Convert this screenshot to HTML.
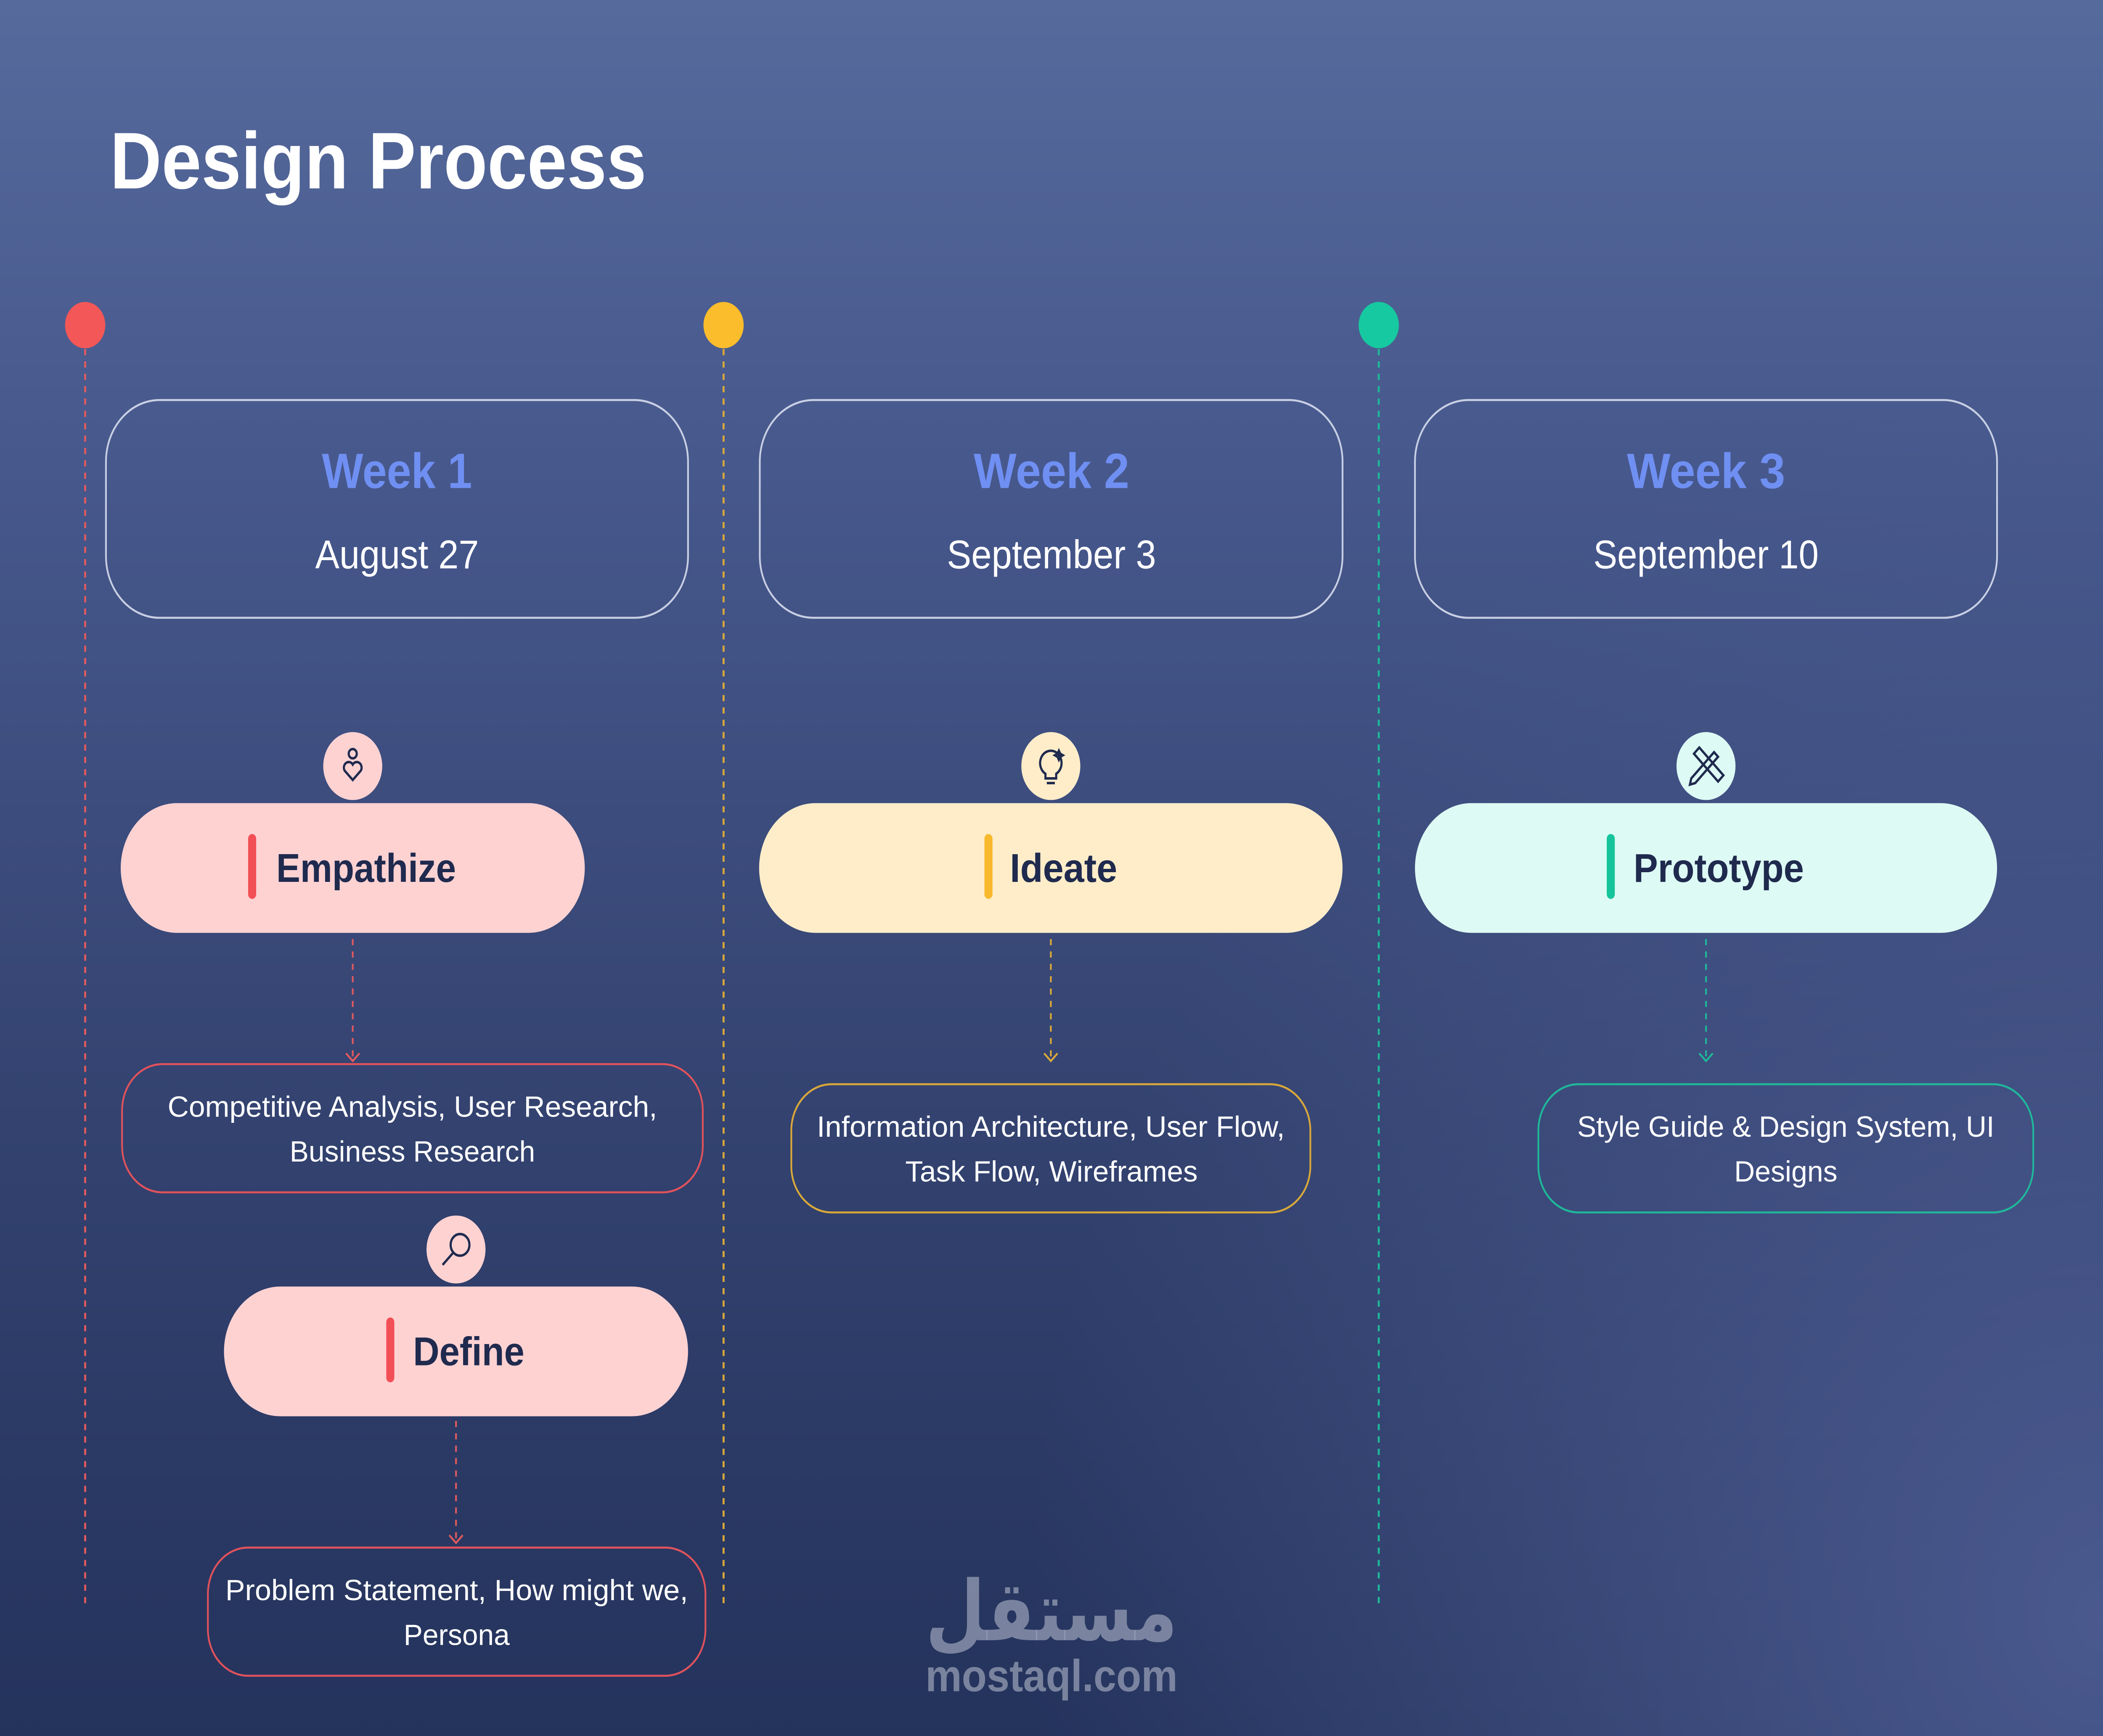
<!DOCTYPE html>
<html><head><meta charset="utf-8"><style>
html,body{margin:0;padding:0;background:#33426f;width:100%;height:100%;overflow:hidden;}
svg{display:block;position:fixed;left:0;top:0;width:100vw;height:100vh;}
text{font-family:"Liberation Sans","DejaVu Sans",sans-serif;}
</style></head><body>
<svg viewBox="0 0 1568 1124" preserveAspectRatio="none" xmlns="http://www.w3.org/2000/svg">
<defs>
<linearGradient id="bg" x1="0" y1="0" x2="0" y2="1">
<stop offset="0" stop-color="#566a9c"/><stop offset="0.3" stop-color="#45568a"/><stop offset="0.65" stop-color="#33426f"/><stop offset="1" stop-color="#24335c"/>
</linearGradient>
<radialGradient id="rg" cx="1568" cy="1050" r="800" gradientUnits="userSpaceOnUse">
<stop offset="0" stop-color="#505f96" stop-opacity="0.85"/><stop offset="1" stop-color="#505f96" stop-opacity="0"/>
</radialGradient>
</defs>
<rect width="1568" height="1124" fill="url(#bg)"/>
<rect width="1568" height="1124" fill="url(#rg)"/>

<text x="82" y="122" font-size="52" font-weight="bold" fill="#fff" textLength="400" lengthAdjust="spacingAndGlyphs">Design Process</text>

<g stroke-width="1.5" stroke-dasharray="4 4" fill="none">
<line x1="63.5" y1="226" x2="63.5" y2="1042" stroke="#e05a5f"/>
<line x1="539.5" y1="226" x2="539.5" y2="1042" stroke="#d9a83a"/>
<line x1="1028" y1="226" x2="1028" y2="1042" stroke="#1fb89a"/>
</g>
<circle cx="63.5" cy="210.5" r="15" fill="#f45757"/>
<circle cx="539.5" cy="210.5" r="15" fill="#fbbd2c"/>
<circle cx="1028" cy="210.5" r="15" fill="#16c9a0"/>

<g fill="none" stroke="#dfe4f3" stroke-opacity="0.85" stroke-width="1.3">
<rect x="79" y="259" width="434" height="141" rx="40"/>
<rect x="566.5" y="259" width="434.5" height="141" rx="40"/>
<rect x="1055" y="259" width="434" height="141" rx="40"/>
</g>
<g text-anchor="middle" lengthAdjust="spacingAndGlyphs">
<text x="296" y="316" font-size="32" font-weight="bold" fill="#6f8ff2" textLength="112" lengthAdjust="spacingAndGlyphs">Week 1</text>
<text x="296" y="368" font-size="26" fill="#fff" textLength="122" lengthAdjust="spacingAndGlyphs">August 27</text>
<text x="784" y="316" font-size="32" font-weight="bold" fill="#6f8ff2" textLength="116" lengthAdjust="spacingAndGlyphs">Week 2</text>
<text x="784" y="368" font-size="26" fill="#fff" textLength="156" lengthAdjust="spacingAndGlyphs">September 3</text>
<text x="1272" y="316" font-size="32" font-weight="bold" fill="#6f8ff2" textLength="118" lengthAdjust="spacingAndGlyphs">Week 3</text>
<text x="1272" y="368" font-size="26" fill="#fff" textLength="168" lengthAdjust="spacingAndGlyphs">September 10</text>
</g>

<rect x="90" y="520" width="346" height="84" rx="42" fill="#ffd2d2"/>
<rect x="185" y="540" width="6" height="42" rx="3" fill="#f24f56"/>
<text x="206" y="571" font-size="26" font-weight="bold" fill="#1f2a4e" textLength="134" lengthAdjust="spacingAndGlyphs">Empathize</text>

<rect x="566" y="520" width="435" height="84" rx="42" fill="#ffedc9"/>
<rect x="734" y="540" width="6" height="42" rx="3" fill="#f9b92c"/>
<text x="753" y="571" font-size="26" font-weight="bold" fill="#1f2a4e" textLength="80" lengthAdjust="spacingAndGlyphs">Ideate</text>

<rect x="1055" y="520" width="434" height="84" rx="42" fill="#ddfbf4"/>
<rect x="1198" y="540" width="6" height="42" rx="3" fill="#15c49b"/>
<text x="1218" y="571" font-size="26" font-weight="bold" fill="#1f2a4e" textLength="127" lengthAdjust="spacingAndGlyphs">Prototype</text>

<rect x="167" y="833" width="346" height="84" rx="42" fill="#ffd2d2"/>
<rect x="288" y="853" width="6" height="42" rx="3" fill="#f24f56"/>
<text x="308" y="884" font-size="26" font-weight="bold" fill="#1f2a4e" textLength="83" lengthAdjust="spacingAndGlyphs">Define</text>

<circle cx="263" cy="496" r="22" fill="#ffd2d2"/>
<g fill="none" stroke="#1f2a4e" stroke-width="1.6" transform="translate(241,474)"><circle cx="22" cy="14" r="3"/><path d="M22 31 l-6-6 a3.5 3.5 0 0 1 6-4 a3.5 3.5 0 0 1 6 4z"/></g>
<circle cx="783.5" cy="496" r="22" fill="#ffedc9"/>
<g fill="none" stroke="#1f2a4e" stroke-width="1.6" transform="translate(761.5,474)"><path d="M18 27 a8 8 0 1 1 8 0 v3 h-8z M19 33 h6"/><path d="M28 12 l1 2 2 1 -2 1 -1 2 -1-2 -2-1 2-1z"/></g>
<circle cx="1272" cy="496" r="22" fill="#ddfbf4"/>
<g fill="none" stroke="#1f2a4e" stroke-width="1.6" transform="translate(1250,474)"><path d="M11 30 l17-17 3 3 -17 17 -4 1z M13 14 l4-4 18 18 -4 4z"/></g>
<circle cx="340" cy="809" r="22" fill="#ffd2d2"/>
<g fill="none" stroke="#1f2a4e" stroke-width="1.6" transform="translate(318,787)"><circle cx="25" cy="19" r="7"/><path d="M20 24 l-8 8"/></g>

<g fill="none" stroke-width="1.3">
<g stroke="#e05a5f"><line x1="263" y1="608" x2="263" y2="686" stroke-dasharray="4 4"/><path d="M258 682 l5 5 5-5"/></g>
<g stroke="#d9a83a"><line x1="783.5" y1="608" x2="783.5" y2="686" stroke-dasharray="4 4"/><path d="M778.5 682 l5 5 5-5"/></g>
<g stroke="#1fb89a"><line x1="1272" y1="608" x2="1272" y2="686" stroke-dasharray="4 4"/><path d="M1267 682 l5 5 5-5"/></g>
<g stroke="#e05a5f"><line x1="340" y1="920" x2="340" y2="998" stroke-dasharray="4 4"/><path d="M335 994 l5 5 5-5"/></g>
</g>

<g fill="none" stroke-width="1.3">
<rect x="91" y="689" width="433" height="83" rx="30" stroke="#e0525c"/>
<rect x="590" y="702" width="387" height="83" rx="30" stroke="#d9a83a"/>
<rect x="1147" y="702" width="369" height="83" rx="30" stroke="#1fb89a"/>
<rect x="155" y="1002" width="371" height="83" rx="30" stroke="#e0525c"/>
</g>
<g text-anchor="middle" font-size="19" fill="#fff">
<text x="307.5" y="723" textLength="365" lengthAdjust="spacingAndGlyphs">Competitive Analysis, User Research,</text>
<text x="307.5" y="752" textLength="183" lengthAdjust="spacingAndGlyphs">Business Research</text>
<text x="783.5" y="736" textLength="349" lengthAdjust="spacingAndGlyphs">Information Architecture, User Flow,</text>
<text x="784" y="765" textLength="218" lengthAdjust="spacingAndGlyphs">Task Flow, Wireframes</text>
<text x="1331.5" y="736" textLength="311" lengthAdjust="spacingAndGlyphs">Style Guide &amp; Design System, UI</text>
<text x="1331.5" y="765" textLength="77" lengthAdjust="spacingAndGlyphs">Designs</text>
<text x="340.5" y="1036" textLength="345" lengthAdjust="spacingAndGlyphs">Problem Statement, How might we,</text>
<text x="340.5" y="1065" textLength="79" lengthAdjust="spacingAndGlyphs">Persona</text>
</g>

<g text-anchor="middle" fill="#969eb4" fill-opacity="0.75" font-weight="bold">
<text x="784" y="1062" font-size="54" style="font-family:'DejaVu Sans',sans-serif" textLength="188" lengthAdjust="spacingAndGlyphs">مستقل</text>
<text x="784" y="1095" font-size="29" textLength="188" lengthAdjust="spacingAndGlyphs">mostaql.com</text>
</g>
</svg>
</body></html>
